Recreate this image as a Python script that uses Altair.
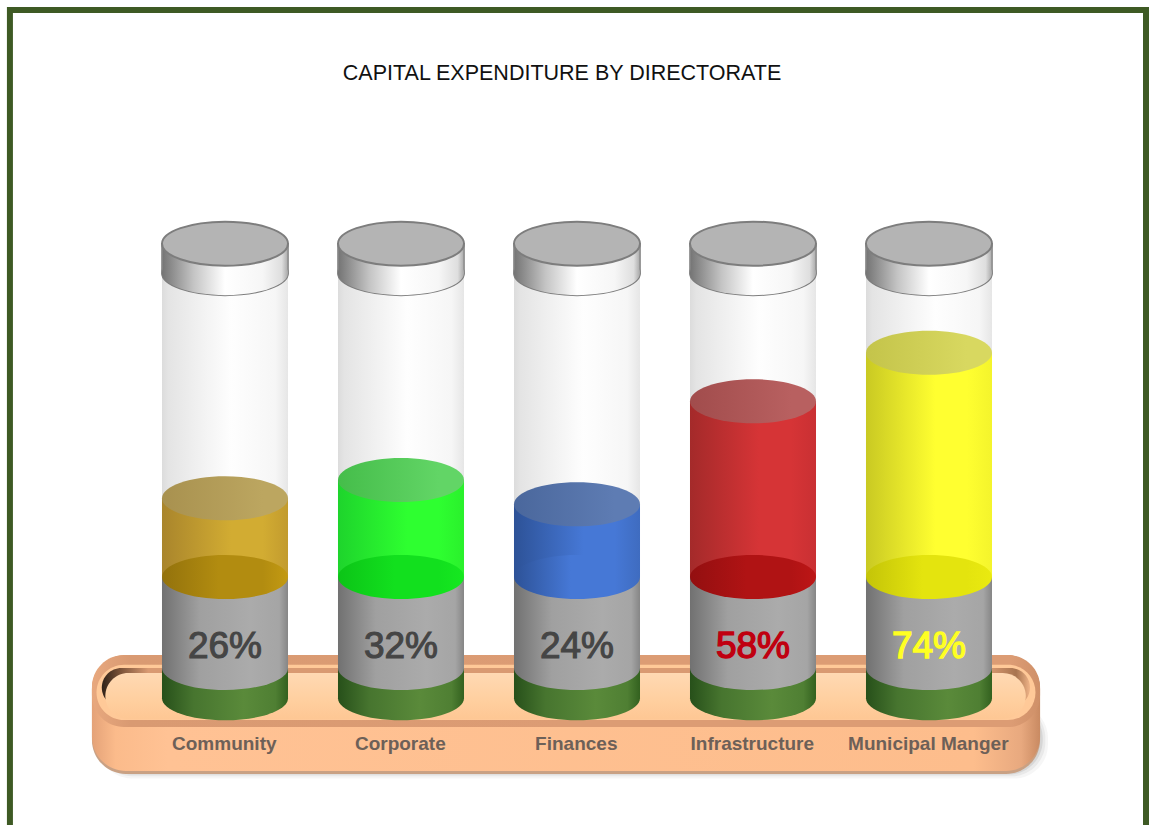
import altair as alt

# Chart content
DIRECTORATES = ["Community", "Corporate", "Finances", "Infrastructure", "Municipal Manger"]
SPENT_PCT = [26, 32, 24, 58, 74]
PCT_COLORS = ["#454545", "#454545", "#454545", "#c00010", "#ffff22"]
PCT_WEIGHT = [1.1, 1.1, 1.1, 1.4, 1.4]

# Liquid palette per directorate: left, middle, right of the body, top disc, inner base disc
LIQUID_LEFT = ["#a9852c", "#1ed42c", "#2d5297", "#a42a2a", "#c9c923"]
LIQUID_MID = ["#d2ac32", "#2eff30", "#4678d6", "#d63436", "#ffff30"]
LIQUID_RIGHT = ["#c29b2e", "#2af02c", "#3f6cc0", "#c93033", "#f4f42c"]
TOP_LEFT = ["#a8914f", "#45bd4a", "#4a679c", "#a14c4c", "#c4c44a"]
TOP_RIGHT = ["#bca660", "#62d566", "#5e7cb3", "#b86060", "#d8d860"]
BASE_LEFT = ["#93720c", "#0cc417", "#2d5297", "#930f10", "#c4c408"]
BASE_MID = ["#b28c10", "#12e01e", "#4678d6", "#b01314", "#e4e40e"]
BASE_RIGHT = ["#c39a12", "#16e820", "#3f6cc0", "#bd1616", "#eaea10"]

# Geometry, in chart units: x counts directorates, y is percent of the tube
X_DOMAIN = [-1.2784, 5.25]
Y_DOMAIN = [-81.85, 190.43]
HALF = 0.358
CAP_HALF = 0.3585
DISC = 15876
TUBE_TOP = 100.3
CAP_TOP = 110
BAND_BOTTOM = -30
FOOT_BOTTOM = -40

ELLIPSE = (
    "M-1,0C-1,-0.193,-0.552,-0.35,0,-0.35C0.552,-0.35,1,-0.193,1,0"
    "C1,0.193,0.552,0.35,0,0.35C-0.552,0.35,-1,0.193,-1,0Z"
)

X_SCALE = alt.Scale(domain=X_DOMAIN, range=[0, 1149], nice=False, zero=False)
Y_SCALE = alt.Scale(domain=Y_DOMAIN, range=[825, 0], nice=False, zero=False)


def h_grad(*stops):
    return alt.LinearGradient(
        gradient="linear", x1=0, x2=1, y1=0, y2=0,
        stops=[alt.GradientStop(color=c, offset=o) for o, c in stops],
    )


def v_grad(*stops):
    return alt.LinearGradient(
        gradient="linear", x1=0, x2=0, y1=0, y2=1,
        stops=[alt.GradientStop(color=c, offset=o) for o, c in stops],
    )


def box(x0, x1, y0, y1, fill, **mark):
    row = {"x0": x0, "x1": x1, "y0": y0, "y1": y1}
    return alt.Chart(alt.Data(values=[row])).mark_rect(fill=fill, **mark).encode(
        x=alt.X("x0:Q", scale=X_SCALE, axis=None),
        x2="x1:Q",
        y=alt.Y("y0:Q", scale=Y_SCALE, axis=None),
        y2="y1:Q",
    )


def disc(cx, cy, fill, size=DISC, **mark):
    return alt.Chart(alt.Data(values=[{"cx": cx, "cy": cy}])).mark_point(
        shape=ELLIPSE, size=size, filled=True, fill=fill, opacity=1, **mark
    ).encode(
        x=alt.X("cx:Q", scale=X_SCALE, axis=None),
        y=alt.Y("cy:Q", scale=Y_SCALE, axis=None),
    )


def label(cx, cy, text, **mark):
    return alt.Chart(alt.Data(values=[{"cx": cx, "cy": cy, "t": text}])).mark_text(
        font="Liberation Sans", baseline="middle", align="center", **mark
    ).encode(
        x=alt.X("cx:Q", scale=X_SCALE, axis=None),
        y=alt.Y("cy:Q", scale=Y_SCALE, axis=None),
        text="t:N",
    )


layers = []

# Page frame and title
layers.append(box(-1.222, 5.233, 187.1, -90, "#ffffff", stroke="#3e5a24", strokeWidth=6))
layers.append(label(1.915, 165.9, "CAPITAL EXPENDITURE BY DIRECTORATE", fontSize=21.5, color="#111111"))

# Tray: soft shadow, bottom lip, outer body, rim, inner wall, floor
for pad_x, pad_y, alpha in [(0.045, 1.5, 0.05), (0.03, 0.8, 0.08), (0.015, 0.2, 0.12)]:
    layers.append(box(-0.72, 4.631 + pad_x, -42.0, -65.0 - pad_y, "#555555",
                      opacity=alpha, cornerRadius=34))
layers.append(box(-0.756, 4.631, -25.74, -65.0, "#c9a184", cornerRadius=34))
layers.append(box(-0.756, 4.631, -25.74, -64.0, h_grad(
    (0, "#e4a278"), (0.025, "#fbbb8b"), (0.08, "#ffc294"), (0.93, "#fdbd8c"),
    (0.98, "#e8a97f"), (1, "#c98a62")), cornerRadius=34))
layers.append(box(-0.756, 4.631, -25.74, -49.5, h_grad(
    (0, "#e8a87e"), (0.04, "#d99a72"), (0.5, "#dc9c74"), (0.97, "#dc9c74"), (1, "#cf9068")),
    cornerRadius=32))
layers.append(box(-0.73, 4.605, -29.0, -47.2, "#ffc998", cornerRadius=30))
layers.append(box(-0.70, 4.574, -30.0, -43.0, h_grad(
    (0, "#2f2118"), (0.02, "#7a5238"), (0.05, "#d99a72"), (0.955, "#d99a72"), (0.985, "#a8744f"), (1, "#f0b488")),
    cornerRadius=28))
layers.append(box(-0.68, 4.55, -31.7, -46.9, v_grad((0, "#ffd9b3"), (0.6, "#ffcf9f"), (1, "#fec794")),
                  cornerRadius=28))

# One cylinder per directorate, painted back to front
GLASS = h_grad((0, "#dcdcdc"), (0.05, "#e4e4e4"), (0.55, "#fefefe"), (0.9, "#f6f6f6"), (1, "#e6e6e6"))
BAND = h_grad((0, "#717171"), (0.3, "#a0a0a0"), (0.7, "#ababab"), (0.93, "#a5a5a5"), (1, "#868686"))
FOOT = h_grad((0, "#27501a"), (0.25, "#47752f"), (0.65, "#5a8a3a"), (0.9, "#4f7f33"), (1, "#33611f"))
CAP_SIDE = h_grad((0, "#747474"), (0.25, "#c4c4c4"), (0.5, "#ffffff"), (0.8, "#f6f6f6"), (0.95, "#dedede"), (1, "#a8a8a8"))

for i, (name, pct) in enumerate(zip(DIRECTORATES, SPENT_PCT)):
    left, right = i - HALF, i + HALF

    # Glass tube
    layers.append(box(left, right, TUBE_TOP, 0, GLASS))

    # Base: green foot and grey band carrying the percentage
    layers.append(disc(i, FOOT_BOTTOM, FOOT))
    layers.append(box(left, right, BAND_BOTTOM + 3, FOOT_BOTTOM, FOOT))
    layers.append(disc(i, BAND_BOTTOM, BAND))
    layers.append(box(left, right, 0, BAND_BOTTOM, BAND))

    # Liquid column, its inner base and its surface
    body = h_grad((0, LIQUID_LEFT[i]), (0.55, LIQUID_MID[i]), (0.8, LIQUID_MID[i]), (1, LIQUID_RIGHT[i]))
    layers.append(box(left, right, pct, 0, body))
    layers.append(disc(i, 0, h_grad((0, BASE_LEFT[i]), (0.45, BASE_MID[i]), (0.8, BASE_MID[i]), (1, BASE_RIGHT[i]))))
    layers.append(disc(i, pct, h_grad((0, TOP_LEFT[i]), (0.8, TOP_RIGHT[i]), (1, TOP_RIGHT[i]))))

    # Lid: outlined rim, its lit front, then the top face
    layers.append(disc(i, TUBE_TOP, "#9a9a9a", stroke="#7d7d7d", strokeWidth=2))
    layers.append(box(i - CAP_HALF, i + CAP_HALF, CAP_TOP, TUBE_TOP, CAP_SIDE,
                      stroke="#8a8a8a", strokeWidth=1.5))
    layers.append(disc(i, TUBE_TOP, CAP_SIDE))
    layers.append(disc(i, CAP_TOP, "#b4b4b4", stroke="#7d7d7d", strokeWidth=2))

    # Texts
    layers.append(label(i, -23.2, f"{pct}%", fontSize=37, color=PCT_COLORS[i],
                        stroke=PCT_COLORS[i], strokeWidth=PCT_WEIGHT[i]))
    layers.append(label(i - 0.004, -55.0, name, fontSize=19, fontWeight="bold", color="#6d6058"))

chart = alt.layer(*layers).properties(
    width=1149, height=825, padding=0,
    autosize=alt.AutoSizeParams(type="none"),
    background="#ffffff",
).configure_view(strokeWidth=0)

chart.save("out.html", embed_options={"renderer": "svg", "actions": False})
